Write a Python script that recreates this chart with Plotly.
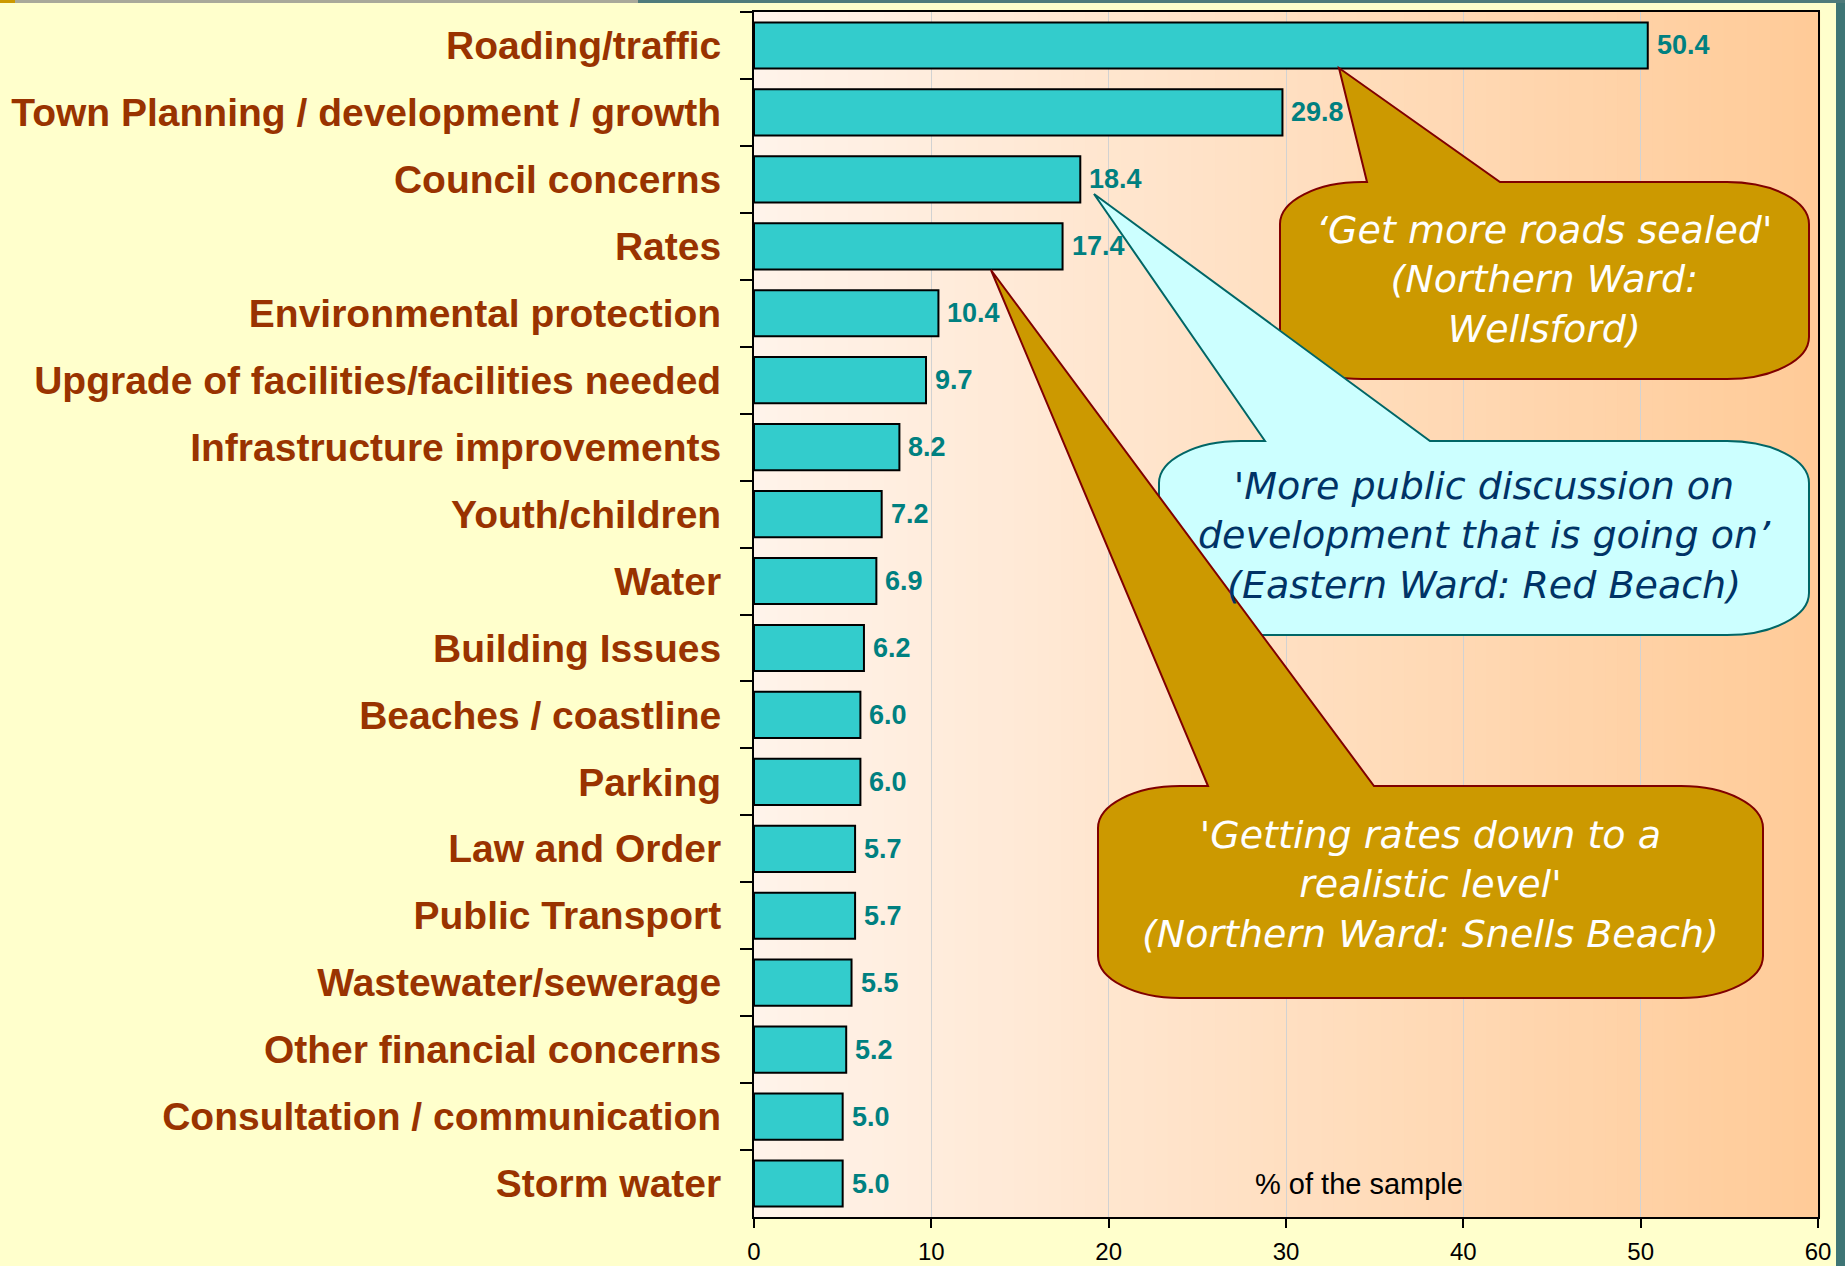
import plotly.graph_objects as go

# survey results - % of the sample mentioning each issue
issues = ["Roading/traffic", "Town Planning / development / growth", "Council concerns", "Rates",
          "Environmental protection", "Upgrade of facilities/facilities needed",
          "Infrastructure improvements", "Youth/children", "Water", "Building Issues",
          "Beaches / coastline", "Parking", "Law and Order", "Public Transport",
          "Wastewater/sewerage", "Other financial concerns", "Consultation / communication",
          "Storm water"]
percent = [50.4, 29.8, 18.4, 17.4, 10.4, 9.7, 8.2, 7.2, 6.9, 6.2, 6.0, 6.0, 5.7, 5.7, 5.5, 5.2, 5.0, 5.0]
x_ticks = [0, 10, 20, 30, 40, 50, 60]

quotes = ["\u2018Get more roads sealed'<br>(Northern Ward:<br>Wellsford)",
          "'More public discussion on<br>development that is going on\u2019<br>(Eastern Ward: Red Beach)",
          "'Getting rates down to a<br>realistic level'<br>(Northern Ward: Snells Beach)"]

W, H = 1845, 1266
L, R, T, B = 754, 1818, 12, 1217


def px(x):
    return (x - L) / (R - L)


def py(y):
    return (B - y) / (B - T)


def bubble(left, top, right, bottom, base0, base1, tip, rx=82, ry=42):
    # rounded callout box with a pointer, pixel coords -> paper path
    k = 0.5523
    pts = [("M", [(base0, top)]), ("L", [tip]), ("L", [(base1, top)]), ("L", [(right - rx, top)]),
           ("C", [(right - rx + k * rx, top), (right, top + ry - k * ry), (right, top + ry)]),
           ("L", [(right, bottom - ry)]),
           ("C", [(right, bottom - ry + k * ry), (right - rx + k * rx, bottom), (right - rx, bottom)]),
           ("L", [(left + rx, bottom)]),
           ("C", [(left + rx - k * rx, bottom), (left, bottom - ry + k * ry), (left, bottom - ry)]),
           ("L", [(left, top + ry)]),
           ("C", [(left, top + ry - k * ry), (left + rx - k * rx, top), (left + rx, top)])]
    s = ""
    for cmd, p in pts:
        s += cmd + " ".join(f"{px(a):.5f},{py(b):.5f}" for a, b in p) + " "
    return s + "Z"


fig = go.Figure()
fig.add_trace(go.Bar(x=percent, y=issues, orientation="h", width=0.69,
                     marker=dict(color="#33CCCC", line=dict(color="black", width=2)),
                     hoverinfo="skip"))

shapes = []
# peach gradient behind the bars
n = 90
c0, c1 = (255, 243, 234), (255, 203, 152)
for i in range(n):
    t = i / (n - 1)
    col = tuple(round(a + (b - a) * t) for a, b in zip(c0, c1))
    shapes.append(dict(type="rect", xref="paper", yref="paper", x0=i / n, x1=(i + 1) / n + 0.002,
                       y0=0, y1=1, layer="below", line=dict(width=0),
                       fillcolor="rgb(%d,%d,%d)" % col))

shapes.append(dict(type="path", xref="paper", yref="paper", layer="above",
                   path=bubble(1280, 182, 1809, 379, 1367, 1500, (1339, 68)),
                   fillcolor="#CC9900", line=dict(color="#800000", width=2)))
shapes.append(dict(type="path", xref="paper", yref="paper", layer="above",
                   path=bubble(1159, 441, 1809, 635, 1265, 1430, (1094, 194)),
                   fillcolor="#CCFFFF", line=dict(color="#006666", width=2)))
shapes.append(dict(type="path", xref="paper", yref="paper", layer="above",
                   path=bubble(1098, 786, 1763, 998, 1208, 1374, (991, 270)),
                   fillcolor="#CC9900", line=dict(color="#800000", width=2)))

# slide edge decoration
shapes.append(dict(type="rect", xref="paper", yref="paper", x0=px(1836), x1=px(W + 2), y0=py(H + 2), y1=py(-2),
                   line=dict(width=0), fillcolor="#3E7575", layer="above"))
shapes.append(dict(type="rect", xref="paper", yref="paper", x0=px(0), x1=px(W + 2), y0=py(3), y1=py(-2),
                   line=dict(width=0), fillcolor="#4F7B7B", layer="above"))
shapes.append(dict(type="rect", xref="paper", yref="paper", x0=px(15), x1=px(638), y0=py(3), y1=py(-2),
                   line=dict(width=0), fillcolor="#A9A99A", layer="above"))
shapes.append(dict(type="rect", xref="paper", yref="paper", x0=px(-2), x1=px(15), y0=py(3), y1=py(-2),
                   line=dict(width=0), fillcolor="#CC9900", layer="above"))

annotations = []
for v, name in zip(percent, issues):
    annotations.append(dict(x=v, y=name, xref="x", yref="y", text=f"{v:.1f}", showarrow=False,
                            xanchor="left", yanchor="middle", xshift=7,
                            font=dict(family="Arial, Liberation Sans", size=27, color="#008080", weight="bold")))

annotations.append(dict(x=px(1359), y=py(1184), xref="paper", yref="paper", text="% of the sample",
                        showarrow=False, xanchor="center", yanchor="middle",
                        font=dict(family="Arial, Liberation Sans", size=29, color="black")))

bubble_text = [(1544, 279, "white"), (1484, 535, "#003366"), (1430, 884, "white")]
for q, (cx, cy, col) in zip(quotes, bubble_text):
    annotations.append(dict(x=px(cx), y=py(cy), xref="paper", yref="paper", text=q, showarrow=False,
                            align="center", xanchor="center", yanchor="middle",
                            font=dict(family="DejaVu Sans", size=38, color=col, style="italic")))

fig.update_layout(
    width=W, height=H,
    margin=dict(l=L, r=W - R, t=T, b=H - B, pad=0),
    paper_bgcolor="#FFFFCC",
    plot_bgcolor="rgb(255,243,234)",
    showlegend=False,
    shapes=shapes,
    annotations=annotations,
)
fig.update_xaxes(range=[0, 60], tickvals=x_ticks, ticks="outside", ticklen=9, tickwidth=2, tickcolor="black",
                 showline=True, linecolor="black", linewidth=2, mirror=True, automargin=False,
                 showgrid=True, gridcolor="#D2D2D2", gridwidth=1, zeroline=False, ticklabelstandoff=3,
                 tickfont=dict(family="Arial, Liberation Sans", size=24, color="black"))
fig.update_yaxes(autorange="reversed", ticks="outside", ticklen=12, tickwidth=2, tickcolor="black",
                 tickson="boundaries", showline=True, linecolor="black", linewidth=2, mirror=True,
                 showgrid=False, ticklabelstandoff=23, automargin=False,
                 tickfont=dict(family="Arial, Liberation Sans", size=39, color="#993300", weight="bold"))

fig.write_html("out.html", config={"displayModeBar": False},
               post_script="document.body.style.margin='0';")
